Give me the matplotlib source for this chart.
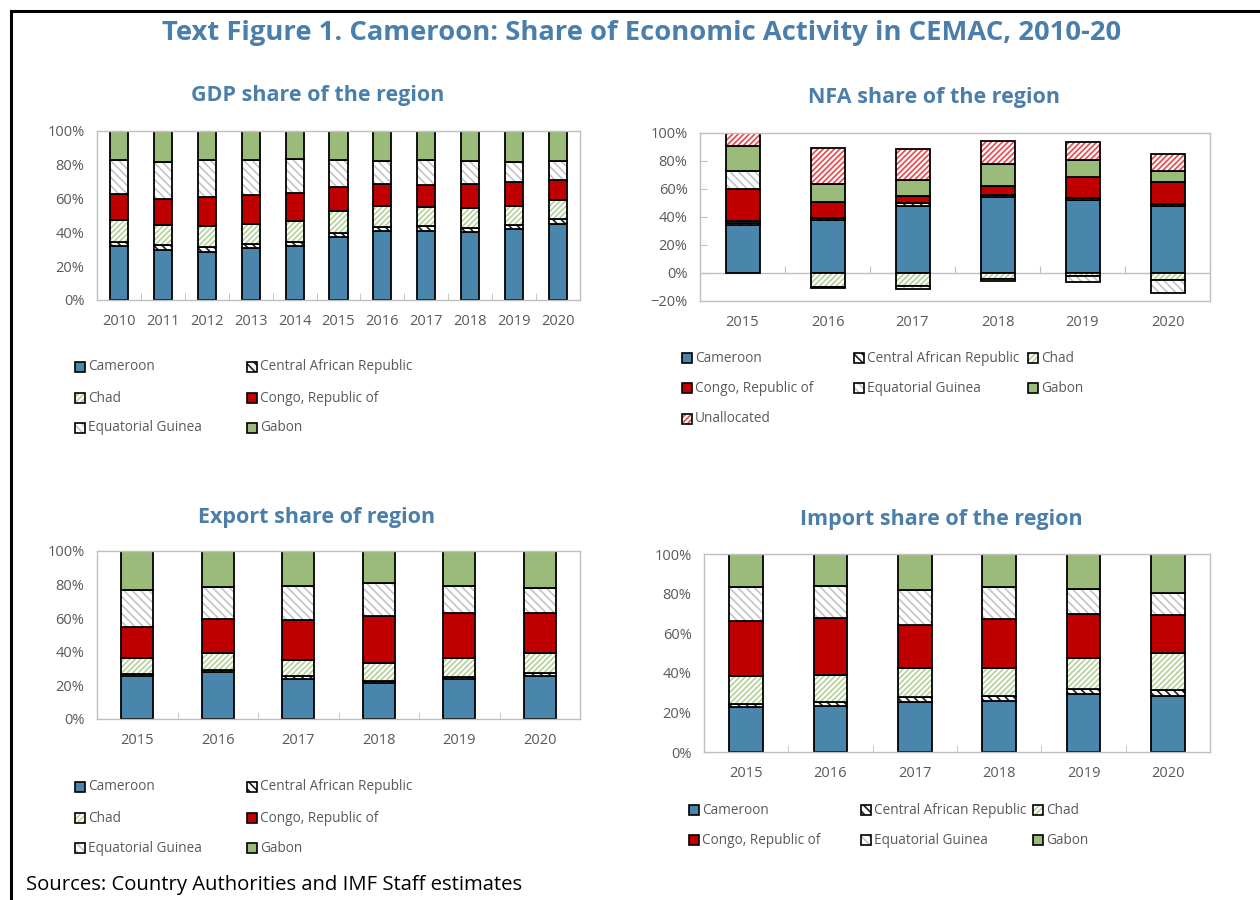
import numpy as np
import matplotlib.pyplot as plt
from matplotlib.patches import Rectangle
from matplotlib.lines import Line2D
from matplotlib.ticker import PercentFormatter

plt.rcParams['font.family'] = ['Open Sans', 'DejaVu Sans']
plt.rcParams['hatch.linewidth'] = 1.2

W, H = 1260, 900
BLUE_TXT = '#4a7fab'
GREY_TXT = '#595959'
SPINE = '#bfbfbf'

names = ['Cameroon', 'Central African Republic', 'Chad', 'Congo, Republic of',
         'Equatorial Guinea', 'Gabon', 'Unallocated']

# GDP share, 2010-20 (percent)
gdp_years = ['2010', '2011', '2012', '2013', '2014', '2015', '2016', '2017', '2018', '2019', '2020']
gdp_cmr = [31.7, 29.5, 28.5, 30.9, 32.1, 37.2, 40.8, 41.0, 40.4, 41.8, 45.0]
gdp_caf = [2.6, 2.8, 3.0, 2.0, 2.0, 2.2, 2.4, 2.6, 2.4, 2.6, 2.9]
gdp_tcd = [12.8, 11.9, 12.1, 11.9, 12.4, 13.1, 12.4, 11.3, 11.7, 11.4, 11.5]
gdp_cog = [15.9, 15.8, 17.4, 17.4, 16.9, 14.4, 13.1, 13.2, 14.2, 14.1, 11.9]
gdp_gnq = [19.6, 21.6, 21.8, 20.8, 19.8, 15.7, 13.7, 14.5, 13.7, 11.9, 11.1]
gdp_gab = [17.4, 18.4, 17.2, 17.0, 16.8, 17.4, 17.6, 17.4, 17.6, 18.2, 17.6]

# NFA share, 2015-20 (percent)
yrs = ['2015', '2016', '2017', '2018', '2019', '2020']
nfa_cmr = [34.5, 38.1, 47.6, 54.3, 52.4, 47.6]
nfa_caf = [1.2, 1.2, 2.4, 1.7, 1.2, 1.4]
nfa_tcd = [1.7, -10.0, -9.5, -4.3, -2.0, -5.0]
nfa_cog = [22.6, 11.4, 5.0, 6.1, 15.2, 16.0]
nfa_gnq = [13.1, -0.6, -1.9, -1.2, -4.4, -9.5]
nfa_gab = [17.6, 13.1, 11.2, 15.8, 11.9, 8.0]
nfa_una = [9.3, 25.2, 22.4, 16.1, 12.6, 12.2]

# Export share
exp_cmr = [25.3, 27.7, 23.8, 21.4, 23.6, 25.7]
exp_caf = [1.2, 1.2, 1.5, 1.2, 1.4, 1.4]
exp_tcd = [10.1, 10.1, 9.6, 10.5, 11.2, 12.1]
exp_cog = [18.4, 20.4, 23.9, 28.1, 26.8, 23.6]
exp_gnq = [21.8, 19.2, 20.6, 19.6, 16.2, 15.0]
exp_gab = [23.2, 21.4, 20.6, 19.2, 20.8, 22.2]

# Import share
imp_cmr = [22.6, 23.4, 25.4, 25.9, 29.3, 28.1]
imp_caf = [1.6, 2.0, 2.4, 2.6, 2.5, 3.0]
imp_tcd = [14.0, 13.3, 14.8, 14.1, 15.5, 18.9]
imp_cog = [28.1, 29.0, 21.4, 24.6, 22.4, 19.0]
imp_gnq = [16.9, 16.1, 17.6, 16.0, 12.5, 11.1]
imp_gab = [16.8, 16.2, 18.4, 16.8, 17.8, 19.9]

# face colour, hatch colour, hatch
styles = {
    'Cameroon': ('#4a86ab', '#4a86ab', None),
    'Central African Republic': ('white', '#202020', '\\\\\\\\'),
    'Chad': ('white', '#b3d197', '//////'),
    'Congo, Republic of': ('#c00000', '#c00000', None),
    'Equatorial Guinea': ('white', '#c4c4c4', '\\\\\\\\'),
    'Gabon': ('#9bbb7b', '#9bbb7b', None),
    'Unallocated': ('white', '#e8474a', '//////'),
}


def fig_rect(left, top, right, bottom):
    return [left / W, 1 - bottom / H, (right - left) / W, (bottom - top) / H]


def stacked(ax, cats, series, labels, width=0.4):
    x = np.arange(len(cats))
    pos = np.zeros(len(cats))
    neg = np.zeros(len(cats))
    for lab, vals in zip(labels, series):
        v = np.array(vals) / 100
        base = np.where(v >= 0, pos, neg)
        face, hc, hatch = styles[lab]
        ax.bar(x, v, width, bottom=base, color=face, edgecolor=hc, hatch=hatch, linewidth=0)
        ax.bar(x, v, width, bottom=base, fill=False, edgecolor='black', linewidth=1.3)
        pos = pos + np.where(v > 0, v, 0)
        neg = neg + np.where(v < 0, v, 0)
    ax.set_xlim(-0.5, len(cats) - 0.5)
    ax.set_xticks(x)
    ax.set_xticklabels(cats)
    ax.set_xticks(np.arange(len(cats) + 1) - 0.5, minor=True)
    ax.tick_params(axis='x', which='major', length=0, pad=10, labelsize=10.5, labelcolor=GREY_TXT)
    ax.tick_params(axis='x', which='minor', direction='in', length=5, color=SPINE)
    ax.tick_params(axis='y', length=0, pad=9, labelsize=10.5, labelcolor=GREY_TXT)
    ax.yaxis.set_major_formatter(PercentFormatter(xmax=1, decimals=0))
    for s in ax.spines.values():
        s.set_color(SPINE)
        s.set_linewidth(1.0)


def legend(fig, entries):
    for lab, x, y in entries:
        face, hc, hatch = styles[lab]
        r = [(x - 5) / W, 1 - (y + 5) / H]
        fig.add_artist(Rectangle(r, 10 / W, 10 / H, transform=fig.transFigure,
                                 facecolor=face, edgecolor=hc, hatch=hatch, linewidth=0))
        fig.add_artist(Rectangle(r, 10 / W, 10 / H, transform=fig.transFigure,
                                 fill=False, edgecolor='black', linewidth=1.2))
        fig.text((x + 8) / W, 1 - y / H, lab, fontsize=9.8, color=GREY_TXT, va='center', ha='left')


fig = plt.figure(figsize=(12.6, 9), dpi=100)

fig.text(642 / W, 1 - 33 / H, 'Text Figure 1. Cameroon: Share of Economic Activity in CEMAC, 2010-20',
         ha='center', va='center', fontsize=19.7, fontweight='bold', color=BLUE_TXT)

six = names[:6]

ax1 = fig.add_axes(fig_rect(97, 131, 580, 300))
stacked(ax1, gdp_years, [gdp_cmr, gdp_caf, gdp_tcd, gdp_cog, gdp_gnq, gdp_gab], six, width=0.41)
ax1.set_ylim(0, 1)
ax1.set_yticks(np.arange(0, 1.01, 0.2))
fig.text(318 / W, 1 - 96 / H, 'GDP share of the region', ha='center', va='center',
         fontsize=15.5, fontweight='bold', color=BLUE_TXT)

ax2 = fig.add_axes(fig_rect(700, 133, 1210, 301))
stacked(ax2, yrs, [nfa_cmr, nfa_caf, nfa_tcd, nfa_cog, nfa_gnq, nfa_gab, nfa_una], names)
ax2.set_ylim(-0.2, 1)
ax2.set_yticks(np.arange(-0.2, 1.01, 0.2))
ax2.tick_params(axis='y', direction='in', length=5, color=SPINE)
ax2.tick_params(axis='x', which='minor', length=0)
ax2.axhline(0, color=SPINE, linewidth=1.0, zorder=0.5)
zero = ax2.secondary_xaxis(0.2 / 1.2)
zero.set_xticks(np.arange(len(yrs) + 1) - 0.5)
zero.tick_params(direction='in', length=5, color=SPINE, labelbottom=False)
zero.spines['bottom'].set_visible(False)
fig.text(934 / W, 1 - 98 / H, 'NFA share of the region', ha='center', va='center',
         fontsize=15.5, fontweight='bold', color=BLUE_TXT)

ax3 = fig.add_axes(fig_rect(97, 551, 580, 719))
stacked(ax3, yrs, [exp_cmr, exp_caf, exp_tcd, exp_cog, exp_gnq, exp_gab], six)
ax3.set_ylim(0, 1)
ax3.set_yticks(np.arange(0, 1.01, 0.2))
fig.text(317 / W, 1 - 517 / H, 'Export share of region', ha='center', va='center',
         fontsize=15.5, fontweight='bold', color=BLUE_TXT)

ax4 = fig.add_axes(fig_rect(704, 554, 1210, 752))
stacked(ax4, yrs, [imp_cmr, imp_caf, imp_tcd, imp_cog, imp_gnq, imp_gab], six)
ax4.set_ylim(0, 1)
ax4.set_yticks(np.arange(0, 1.01, 0.2))
fig.text(941 / W, 1 - 519 / H, 'Import share of the region', ha='center', va='center',
         fontsize=15.5, fontweight='bold', color=BLUE_TXT)

# legends, laid out row by row as in the source
legend(fig, [(names[0], 80, 367), (names[1], 252, 367),
             (names[2], 80, 398), (names[3], 252, 398),
             (names[4], 80, 428), (names[5], 252, 428)])
legend(fig, [(names[0], 687, 358), (names[1], 859, 358), (names[2], 1033, 358),
             (names[3], 687, 388), (names[4], 859, 388), (names[5], 1033, 388),
             (names[6], 687, 419)])
legend(fig, [(names[0], 80, 787), (names[1], 252, 787),
             (names[2], 80, 818), (names[3], 252, 818),
             (names[4], 80, 848), (names[5], 252, 848)])
legend(fig, [(names[0], 694, 810), (names[1], 866, 810), (names[2], 1038, 810),
             (names[3], 694, 840), (names[4], 866, 840), (names[5], 1038, 840)])

fig.text(26 / W, 1 - 875 / H, 'Sources: Country Authorities and IMF Staff estimates',
         ha='left', va='top', fontsize=14.6, color='black')

# outer frame (left and top edges)
fig.add_artist(Line2D([11 / W, 11 / W], [0, 1 - 11 / H], transform=fig.transFigure,
                      color='black', linewidth=2.2))
fig.add_artist(Line2D([11 / W, 1], [1 - 11 / H, 1 - 11 / H], transform=fig.transFigure,
                      color='black', linewidth=2.2))

fig.savefig('out.png', dpi=100)
